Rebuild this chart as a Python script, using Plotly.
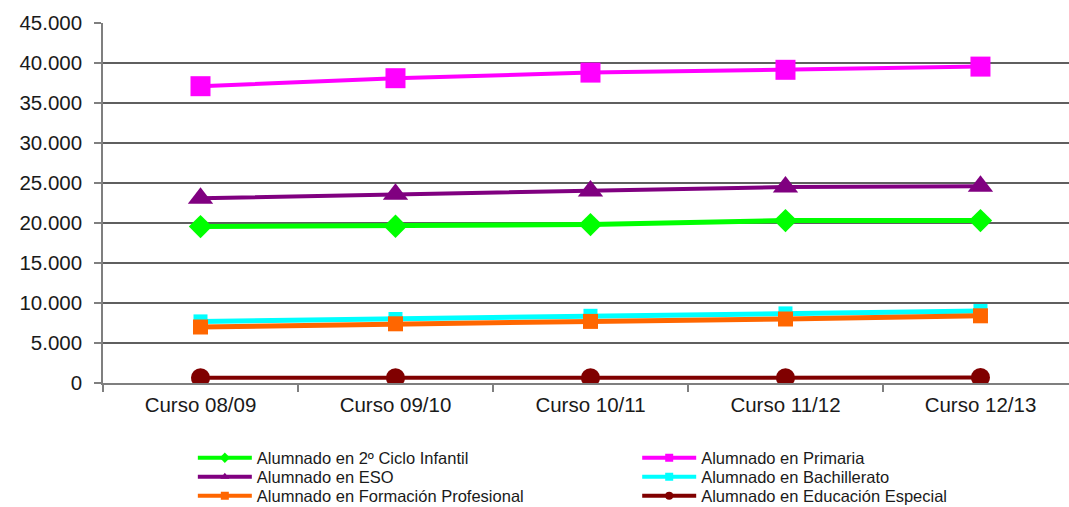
import plotly.graph_objects as go

categories = ["Curso 08/09", "Curso 09/10", "Curso 10/11", "Curso 11/12", "Curso 12/13"]

infantil = [19550, 19600, 19800, 20300, 20300]
primaria = [37100, 38100, 38800, 39150, 39550]
eso = [23100, 23600, 24000, 24500, 24600]
bachillerato = [7700, 8000, 8400, 8700, 9000]
fp = [7000, 7400, 7700, 8000, 8400]
especial = [650, 650, 660, 670, 680]

series_names = [
    "Alumnado en 2º Ciclo Infantil",
    "Alumnado en Primaria",
    "Alumnado en ESO",
    "Alumnado en Bachillerato",
    "Alumnado en Formación Profesional",
    "Alumnado en Educación Especial",
]
series_values = [infantil, primaria, eso, bachillerato, fp, especial]
colors = ["#00FF00", "#FF00FF", "#800080", "#00FFFF", "#FF6600", "#800000"]
symbols = ["diamond", "square", "triangle-up", "square", "square", "circle"]
msizes = [18, 20, 22, 14, 15, 19]
lwidths = [5, 4, 4, 5, 5, 4]

y_ticks = [0, 5000, 10000, 15000, 20000, 25000, 30000, 35000, 40000, 45000]

font_family = "Liberation Sans, Arial, sans-serif"

# legend grid: 2 columns x 3 rows (row-major)
legend_ids = ["legend", "legend2", "legend3", "legend4", "legend5", "legend6"]
col_x = [0.093, 0.553]
row_y = [-0.2083, -0.2611, -0.3139]

fig = go.Figure()
for name, vals, c, s, ms, lw in zip(series_names, series_values, colors, symbols, msizes, lwidths):
    fig.add_trace(go.Scatter(
        x=categories, y=vals, name=name, mode="lines+markers",
        line=dict(color=c, width=lw),
        marker=dict(color=c, symbol=s, size=ms, line=dict(width=0)),
        showlegend=False,
    ))
for i, (name, c, s) in enumerate(zip(series_names, colors, symbols)):
    fig.add_trace(go.Scatter(
        x=[None], y=[None], name=name, mode="lines+markers",
        line=dict(color=c, width=4),
        marker=dict(color=c, symbol=s, size=8, line=dict(width=0)),
        showlegend=True, legend=legend_ids[i],
    ))

legend_layout = {}
for i, lid in enumerate(legend_ids):
    legend_layout[lid] = dict(
        x=col_x[i % 2], xanchor="left",
        y=row_y[i // 2], yanchor="middle",
        font=dict(size=16.5, family=font_family, color="#1a1a1a"),
        itemwidth=54,
        bgcolor="rgba(0,0,0,0)",
        borderwidth=0,
    )

fig.update_layout(
    width=1069, height=507,
    margin=dict(l=103, r=0, t=23, b=124, autoexpand=False),
    paper_bgcolor="white", plot_bgcolor="white",
    separators=",.",
    showlegend=True,
    font=dict(family=font_family, color="#1a1a1a"),
    xaxis=dict(
        type="category",
        range=[-0.5, 4.454],
        showgrid=False,
        showline=True, linecolor="#7f7f7f", linewidth=1.5,
        ticks="outside", tickson="boundaries", ticklen=7, tickcolor="#7f7f7f", tickwidth=1.5,
        tickfont=dict(size=20.5, family=font_family, color="#1a1a1a"),
        ticklabelstandoff=3,
        zeroline=False, automargin=False,
    ),
    yaxis=dict(
        range=[0, 45000],
        tickvals=y_ticks,
        tickformat=",d",
        showgrid=True, gridcolor="#5f5f5f", gridwidth=1.5,
        showline=True, linecolor="#7f7f7f", linewidth=1.5,
        ticks="outside", ticklen=7, tickcolor="#7f7f7f", tickwidth=1.5,
        tickfont=dict(size=20.5, family=font_family, color="#1a1a1a"),
        ticklabelstandoff=8,
        zeroline=False, automargin=False,
    ),
    **legend_layout,
)

fig.write_html(
    "out.html",
    config={"displayModeBar": False},
    post_script="document.body.style.margin='0px';document.body.style.overflow='hidden';",
)
